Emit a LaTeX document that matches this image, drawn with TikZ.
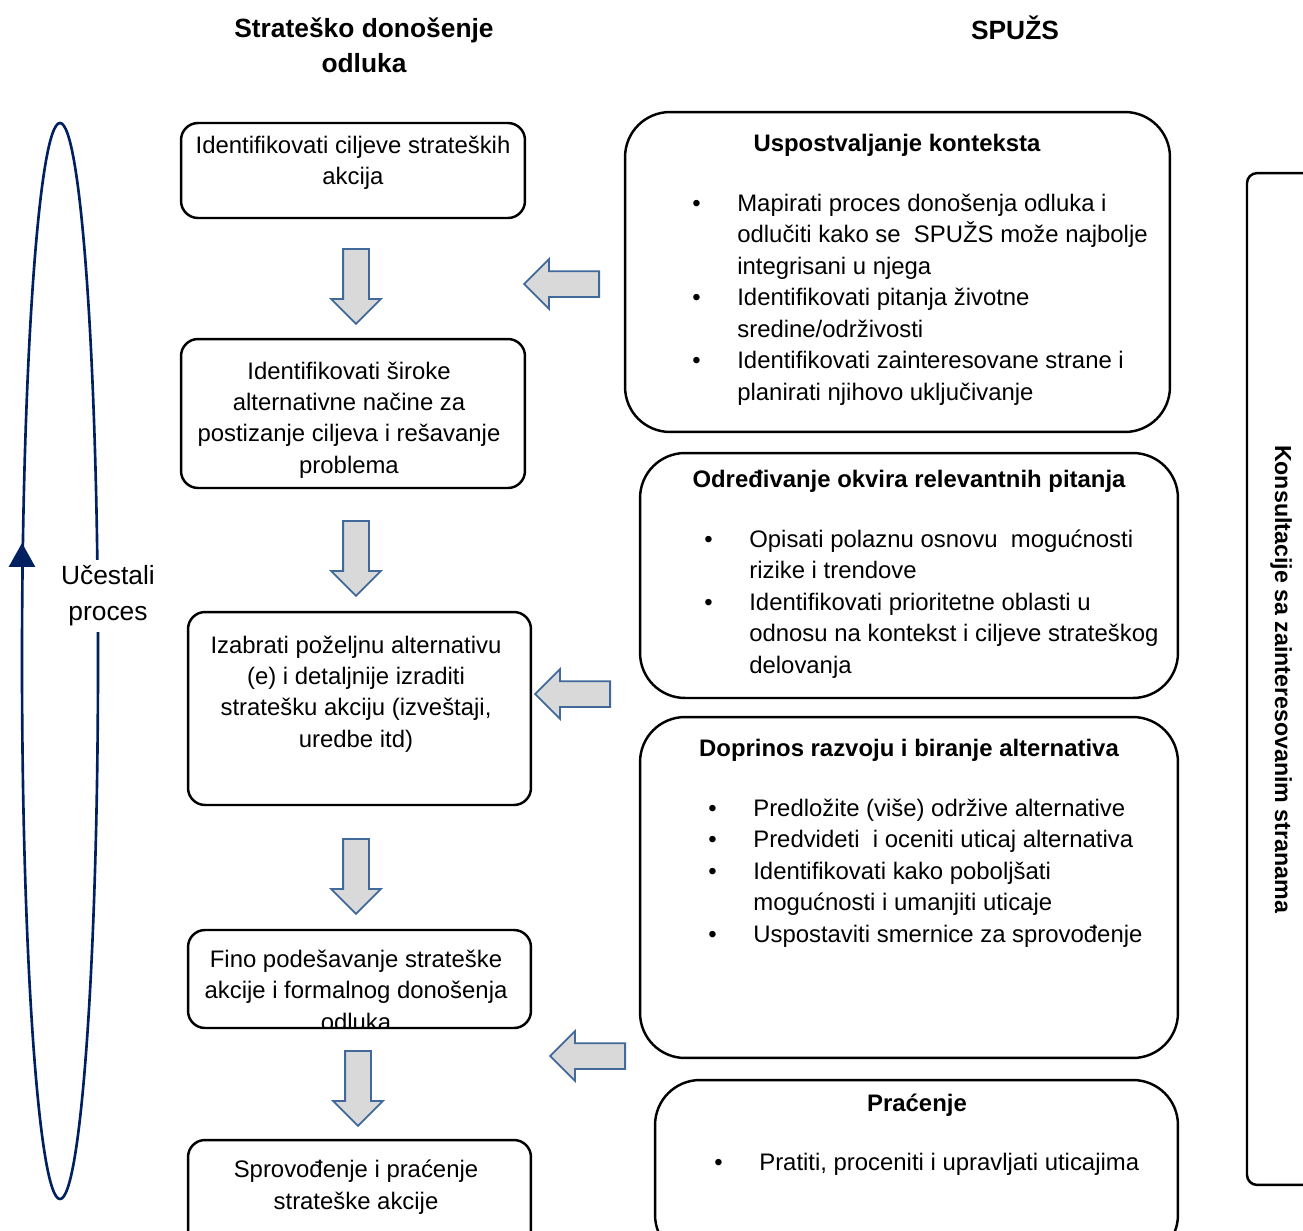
\documentclass[tikz,border=0pt]{standalone}
\usepackage{fontspec}
\setmainfont{Liberation Sans}
\usetikzlibrary{shapes.arrows,arrows.meta}

\definecolor{tamnoplava}{RGB}{0,32,96}
\definecolor{strelicaokvir}{RGB}{65,105,155}
\definecolor{strelicasiva}{RGB}{217,217,217}

\newcommand\tacka{\textbullet}

\tikzset{%
  korak/.style={
    draw,
    line width=1.4pt,
    rounded corners=0.34cm
  },
  faza/.style={
    draw,
    line width=1.4pt,
    rounded corners=0.9cm
  },
  tekst/.style={
    align=center,
    inner sep=0pt,
    font=\fontsize{13.6}{17.9}\selectfont
  },
  naslov/.style={
    align=center,
    inner sep=0pt,
    font=\fontsize{13.6}{17.9}\selectfont\bfseries
  },
  zaglavlje/.style={
    align=center,
    inner sep=0pt,
    font=\fontsize{15}{20}\selectfont\bfseries
  },
  lista/.style={
    anchor=north west,
    inner sep=0pt,
    font=\fontsize{13.6}{17.9}\selectfont
  },
  blok strelica/.style={
    single arrow,
    draw=strelicaokvir,
    fill=strelicasiva,
    line width=1pt,
    minimum height=1.5cm,
    inner xsep=0pt,
    inner ysep=0.24cm,
    single arrow head extend=0.24cm,
    anchor=tail
  },
}

\begin{document}
\begin{tikzpicture}[x=0.02cm, y=-0.02cm]

\path[use as bounding box, clip] (0,0) rectangle (1303,1231);

% Zaglavlja
\node [zaglavlje] (zag-levo) at (364,45) {Strateško donošenje\\odluka};
\node [zaglavlje] (zag-desno) at (1015,28) {SPUŽS};

% Ucestali proces
\draw [tamnoplava, line width=1.5pt] (60,661) ellipse [x radius=38, y radius=538];
\coordinate (krug-dole) at (22,600);
\coordinate (krug-gore) at (22,543);
\draw [tamnoplava, line width=1.5pt, -{Triangle[length=13.6pt, width=14.8pt]}] (krug-dole) -- (krug-gore);
\node [tekst, font=\fontsize{15}{20.5}\selectfont, fill=white, inner sep=3pt] (ucestali) at (108,596) {Učestali\\proces};

% Koraci strateskog odlucivanja
\node [korak, minimum width=6.88cm, minimum height=1.9cm] (korak-1) at (353,170.5) {};
\node [korak, minimum width=6.88cm, minimum height=2.98cm] (korak-2) at (353,413.5) {};
\node [korak, minimum width=6.86cm, minimum height=3.86cm] (korak-3) at (359.5,708.5) {};
\node [korak, minimum width=6.86cm, minimum height=1.96cm] (korak-4) at (359.5,979) {};
\node [korak, minimum width=6.86cm, minimum height=2.4cm] (korak-5) at (359.5,1200) {};

\node [tekst] (tekst-1) at (353,163) {Identifikovati ciljeve strateških\\akcija};
\node [tekst] (tekst-2) at (349,420) {Identifikovati široke\\alternativne načine za\\postizanje ciljeva i rešavanje\\problema};
\node [tekst] (tekst-3) at (356,694) {Izabrati poželjnu alternativu\\(e) i detaljnije izraditi\\stratešku akciju (izveštaji,\\uredbe itd)};
\begin{scope}
  \clip (188,930) rectangle (531,1028);
  \node [tekst] (tekst-4) at (356,990) {Fino podešavanje strateške\\akcije i formalnog donošenja\\odluka};
\end{scope}
\node [tekst] (tekst-5) at (356,1187) {Sprovođenje i praćenje\\strateške akcije};

% Strelice nadole
\foreach \x/\y [count=\i] in {356/248, 356/520, 356/838, 358/1050}
  \node [blok strelica, rotate=-90] (dole-\i) at (\x,\y) {};

% Faze SPUZS
\node [faza, minimum width=10.9cm, minimum height=6.4cm] (faza-1) at (897.5,272) {};
\node [faza, minimum width=10.76cm, minimum height=4.9cm] (faza-2) at (909,575.5) {};
\node [faza, minimum width=10.76cm, minimum height=6.82cm] (faza-3) at (909,887.5) {};
\node [faza, minimum width=10.46cm, minimum height=3.6cm] (faza-4) at (916.5,1170) {};

\node [naslov] (naslov-1) at (897,145) {Uspostvaljanje konteksta};
\node [naslov] (naslov-2) at (909,481) {Određivanje okvira relevantnih pitanja};
\node [naslov] (naslov-3) at (909,750) {Doprinos razvoju i biranje alternativa};
\node [naslov] (naslov-4) at (917,1105) {Praćenje};

\node [lista] (lista-1) at (692,189) {%
  \begin{tabular}{@{}p{0.9cm}@{}l@{}}
    \tacka & Mapirati proces donošenja odluka i\\
           & odlučiti kako se~ SPUŽS može najbolje\\
           & integrisani u njega\\
    \tacka & Identifikovati pitanja životne\\
           & sredine/održivosti\\
    \tacka & Identifikovati zainteresovane strane i\\
           & planirati njihovo uključivanje
  \end{tabular}};
\node [lista] (lista-2) at (704,525) {%
  \begin{tabular}{@{}p{0.9cm}@{}l@{}}
    \tacka & Opisati polaznu osnovu~ mogućnosti\\
           & rizike i trendove\\
    \tacka & Identifikovati prioritetne oblasti u\\
           & odnosu na kontekst i ciljeve strateškog\\
           & delovanja
  \end{tabular}};
\node [lista] (lista-3) at (708,794) {%
  \begin{tabular}{@{}p{0.9cm}@{}l@{}}
    \tacka & Predložite (više) održive alternative\\
    \tacka & Predvideti~ i oceniti uticaj alternativa\\
    \tacka & Identifikovati kako poboljšati\\
           & mogućnosti i umanjiti uticaje\\
    \tacka & Uspostaviti smernice za sprovođenje
  \end{tabular}};
\node [lista] (lista-4) at (714,1148) {%
  \begin{tabular}{@{}p{0.9cm}@{}l@{}}
    \tacka & Pratiti, proceniti i upravljati uticajima
  \end{tabular}};

% Strelice ulevo
\foreach \x/\y [count=\i] in {600/284, 611/694, 626/1056}
  \node [blok strelica, rotate=180] (levo-\i) at (\x,\y) {};

% Konsultacije
\node [draw, line width=1.4pt, rounded corners=0.2cm, minimum width=2.06cm, minimum height=20.24cm] (konsultacije) at (1298.5,679) {};
\node [naslov, font=\fontsize{13.2}{17.9}\selectfont\bfseries, rotate=-90] (konsultacije-tekst) at (1281,679) {Konsultacije sa zainteresovanim stranama};

\end{tikzpicture}
\end{document}
